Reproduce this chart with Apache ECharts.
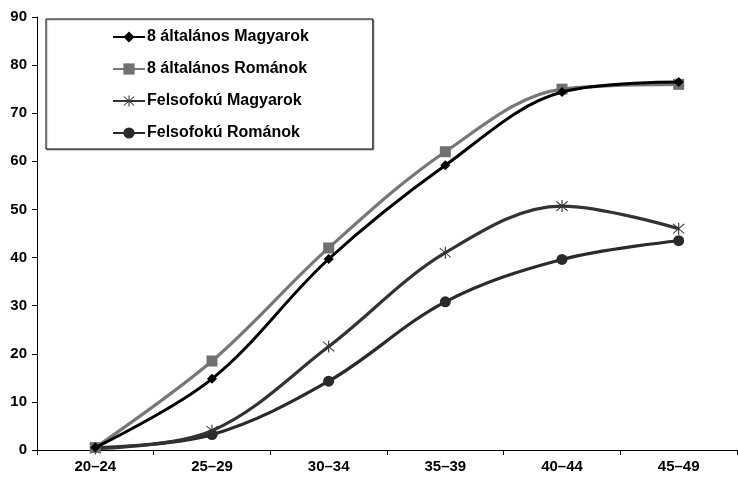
<!DOCTYPE html>
<html>
<head>
<meta charset="utf-8">
<script src="https://cdn.jsdelivr.net/npm/echarts@6/dist/echarts.min.js"></script>
<style>html,body{margin:0;padding:0;background:#fff}#c{width:738px;height:478px}</style>
</head>
<body>
<div id="c"></div>
<script>
const categories = ['20–24', '25–29', '30–34', '35–39', '40–44', '45–49'];
const altMagyarok = [0.5, 14.8, 39.7, 59.2, 74.4, 76.5];
const altRomanok = [0.5, 18.5, 42.0, 62.0, 75.0, 76.0];
const felsMagyarok = [0.3, 4.0, 21.5, 41.0, 50.7, 46.0];
const felsRomanok = [0.5, 3.2, 14.3, 30.8, 39.6, 43.5];
const yTicks = { min: 0, max: 90, interval: 10 };

const asterisk = 'path://M9.2 0L10.8 0L10.8 20L9.2 20Z M1.5 2.6L2.6 1.5L18.5 17.4L17.4 18.5Z M17.4 1.5L18.5 2.6L2.6 18.5L1.5 17.4Z';
const font = '"Liberation Sans", Arial, sans-serif';

const chart = echarts.init(document.getElementById('c'), null, { renderer: 'canvas' });
chart.setOption({
  animation: false,
  backgroundColor: '#fff',
  grid: { left: 37, right: 1, top: 17, bottom: 28, containLabel: false },
  legend: {
    orient: 'vertical',
    left: 46, top: 19,
    padding: [10, 64, 8, 66],
    itemWidth: 32, itemHeight: 14, itemGap: 16,
    borderColor: '#000', borderWidth: 1,
    backgroundColor: '#fff',
    shadowColor: 'rgba(0,0,0,0.3)', shadowOffsetX: 1, shadowOffsetY: 1, shadowBlur: 1,
    textStyle: { fontFamily: font, fontWeight: 'bold', fontSize: 16, color: '#000', padding: [0, 0, 0, -3] },
    data: ['8 általános Magyarok', '8 általános Románok', 'Felsofokú Magyarok', 'Felsofokú Románok']
  },
  xAxis: {
    type: 'category', data: categories, boundaryGap: true,
    axisLine: { lineStyle: { color: '#000', width: 1 } },
    axisTick: { show: true, length: 5, lineStyle: { color: '#000' } },
    axisLabel: { fontFamily: font, fontWeight: 'bold', fontSize: 15, color: '#000', margin: 9 },
    splitLine: { show: false }
  },
  yAxis: {
    type: 'value', min: yTicks.min, max: yTicks.max, interval: yTicks.interval,
    axisLine: { show: true, lineStyle: { color: '#000', width: 1 } },
    axisTick: { show: true, length: 5, lineStyle: { color: '#000' } },
    axisLabel: { fontFamily: font, fontWeight: 'bold', fontSize: 15, color: '#000', margin: 10 },
    splitLine: { show: false }
  },
  series: [
    { name: '8 általános Magyarok', type: 'line', smooth: 0.35, data: altMagyarok,
      symbol: 'diamond', symbolSize: 10, lineStyle: { color: '#000', width: 3 },
      itemStyle: { color: '#000' }, z: 4 },
    { name: '8 általános Románok', type: 'line', smooth: 0.35, data: altRomanok,
      symbol: 'rect', symbolSize: 11, lineStyle: { color: '#777', width: 3.2 },
      itemStyle: { color: '#707070' }, z: 3 },
    { name: 'Felsofokú Magyarok', type: 'line', smooth: 0.35, data: felsMagyarok,
      symbol: asterisk, symbolSize: 12, lineStyle: { color: '#333', width: 3.2 },
      itemStyle: { color: '#333' }, z: 2 },
    { name: 'Felsofokú Románok', type: 'line', smooth: 0.35, data: felsRomanok,
      symbol: 'circle', symbolSize: 11, lineStyle: { color: '#2a2a2a', width: 3.2 },
      itemStyle: { color: '#2a2a2a' }, z: 1 }
  ]
});
</script>
</body>
</html>
